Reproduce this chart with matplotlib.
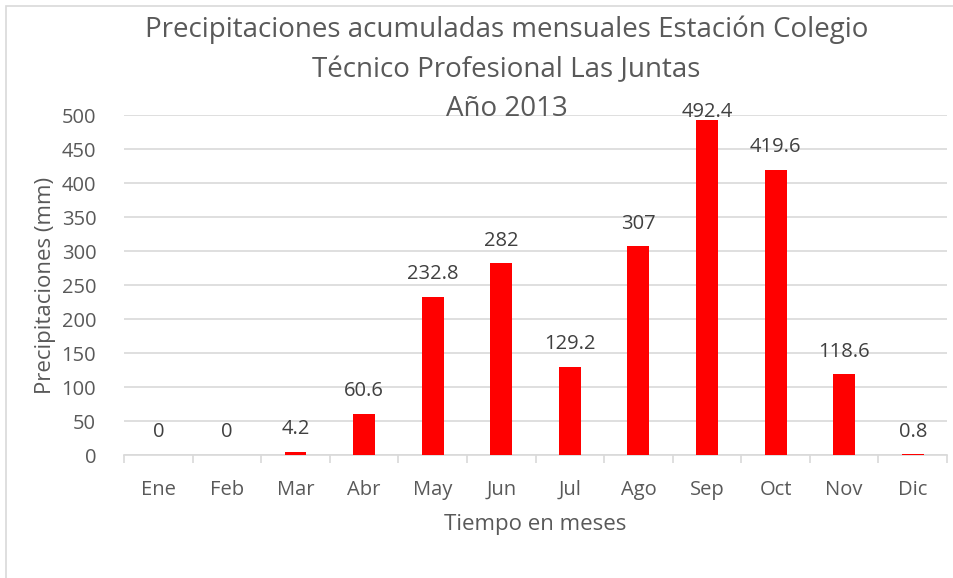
import numpy as np
import matplotlib.pyplot as plt
from matplotlib.patches import Rectangle

plt.rcParams['font.family'] = ['Open Sans', 'DejaVu Sans']

meses = ['Ene', 'Feb', 'Mar', 'Abr', 'May', 'Jun', 'Jul', 'Ago', 'Sep', 'Oct', 'Nov', 'Dic']
precip = [0, 0, 4.2, 60.6, 232.8, 282, 129.2, 307, 492.4, 419.6, 118.6, 0.8]
etiquetas = ['0', '0', '4.2', '60.6', '232.8', '282', '129.2', '307', '492.4', '419.6', '118.6', '0.8']
titulo = ['Precipitaciones acumuladas mensuales Estación Colegio',
          'Técnico Profesional Las Juntas',
          'Año 2013']

gris = '#595959'
fig = plt.figure(figsize=(9.54, 5.78), dpi=100)
ax = fig.add_axes([0.130, 0.2128, 0.8627, 0.5882])

x = np.arange(len(meses))
ax.bar(x, precip, width=0.32, color='#ff0000', zorder=3)

# etiquetas de datos sobre cada barra (como Excel, no salen del area de trazado)
for xi, v, s in zip(x, precip, etiquetas):
    ax.text(xi, min(v + 26, 497), s, ha='center', va='baseline', fontsize=14.5, color='#404040')

ax.set_xlim(-0.5, 11.5)
ax.set_ylim(0, 500)
ax.set_yticks(range(0, 501, 50))
ax.yaxis.grid(True, color='#d9d9d9', linewidth=1.2, zorder=0)
ax.set_xticks(x)
ax.set_xticklabels(meses)
ax.set_xticks(np.arange(-0.5, 12, 1), minor=True)
ax.tick_params(axis='x', which='major', length=0, pad=18, labelsize=14.5, labelcolor=gris)
ax.tick_params(axis='x', which='minor', length=6, color='#d9d9d9', width=1.2)
ax.tick_params(axis='y', length=0, pad=20, labelsize=14.5, labelcolor=gris)
for sp in ['top', 'right', 'left']:
    ax.spines[sp].set_visible(False)
ax.spines['bottom'].set_color('#d9d9d9')
ax.spines['bottom'].set_linewidth(1.2)

ax.set_xlabel('Tiempo en meses', fontsize=16, color=gris, labelpad=10)
ax.set_ylabel('Precipitaciones (mm)', fontsize=16, color=gris, labelpad=4)

# titulo en tres lineas, cada una centrada
for linea, yb in zip(titulo, [0.936, 0.8668, 0.7993]):
    fig.text(0.531, yb, linea, ha='center', va='baseline', fontsize=20, color=gris)

fig.patches.append(Rectangle((6 / 954, -0.1), 2, 1.1 - 6 / 578, transform=fig.transFigure,
                             fill=False, edgecolor='#d9d9d9', linewidth=1.2))

fig.savefig('out.png', dpi=100)
